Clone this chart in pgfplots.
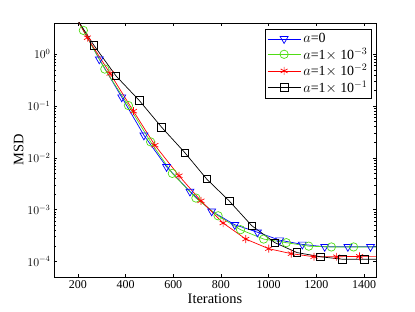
\documentclass[border=0pt]{standalone}
\usepackage{pgfplots}
\pgfplotsset{compat=1.18}
\usepackage{fontspec}
\setmainfont{Liberation Serif}
\begin{document}
\begin{tikzpicture}
\useasboundingbox (-54bp,-35bp) rectangle (361bp,277bp);
\begin{axis}[
  scale only axis,
  width=322bp, height=254bp,
  at={(0,0)}, anchor=south west,
  xmin=100, xmax=1450,
  ymode=log, ymin=5e-5, ymax=4,
  xtick={200,400,...,1400},
  ytick={1e-4,1e-3,1e-2,1e-1,1},
  tick align=inside,
  major tick length=3bp, minor tick length=1.8bp,
  axis line style={line width=0.9pt},
  every tick/.style={black, line width=0.5pt},
  tick label style={font=\fontsize{12}{13}\selectfont},
  /pgf/number format/assume math mode=true,
  /pgf/number format/set thousands separator={},
  xlabel={Iterations}, ylabel={MSD},
  label style={font=\fontsize{14.5}{15}\selectfont},
  xlabel style={yshift=1bp},
  ylabel style={yshift=-3bp},
  legend style={at={(0.987,0.976)}, anchor=north east, draw=black, line width=0.8pt,
    font=\fontsize{14}{15}\selectfont, inner sep=1.5pt, row sep=-1.5pt,
    nodes={inner sep=2.5pt}},
  legend cell align=left,
  legend image code/.code={\draw[mark repeat=2,mark phase=2] plot coordinates {(0cm,0cm) (0.58cm,0cm) (1.16cm,0cm)};},
  every axis plot/.append style={line width=0.7pt},
  clip=true,
]
\addplot[blue, mark=triangle, mark options={rotate=180, scale=2.3, solid}] coordinates {
(200,4.5) (290,0.80) (384,0.148) (477,0.0272) (572,0.0067) (670,0.00224) (761,9.3e-4) (858,5.1e-4) (953,3.66e-4) (1046,2.57e-4) (1141,2.13e-4) (1235,1.92e-4) (1332,1.92e-4) (1427,1.92e-4) (1460,1.92e-4)};
\addlegendentry{$a$=0}
\addplot[color={rgb,255:red,80;green,220;blue,20}, mark=o, mark options={scale=2.1, solid}] coordinates {
(200,4.5) (223,2.88) (313,0.516) (412,0.102) (505,0.0203) (596,0.0050) (695,0.00167) (788,7.6e-4) (882,4.1e-4) (979,2.7e-4) (1074,2.3e-4) (1168,1.97e-4) (1263,1.9e-4) (1356,1.9e-4) (1460,1.9e-4)};
\addlegendentry{$a$=1$\times$ 10$^{-3}$}
\addplot[red, mark=asterisk, mark options={scale=2.0, solid}] coordinates {
(200,4.5) (240,2.08) (335,0.425) (433,0.0795) (523,0.0175) (624,0.0045) (716,0.00148) (809,5.5e-4) (904,2.7e-4) (1000,1.76e-4) (1095,1.41e-4) (1190,1.23e-4) (1285,1.23e-4) (1381,1.25e-4) (1460,1.25e-4)};
\addlegendentry{$a$=1$\times$ 10$^{-2}$}
\addplot[black, mark=square, mark options={scale=1.9, solid}] coordinates {
(200,4.5) (267,1.49) (360,0.38) (458,0.127) (551,0.039) (649,0.0125) (740,0.0039) (834,0.00148) (929,4.9e-4) (1026,2.3e-4) (1119,1.48e-4) (1217,1.23e-4) (1310,1.1e-4) (1402,1.1e-4) (1460,1.1e-4)};
\addlegendentry{$a$=1$\times$ 10$^{-1}$}
\end{axis}
\end{tikzpicture}
\end{document}
